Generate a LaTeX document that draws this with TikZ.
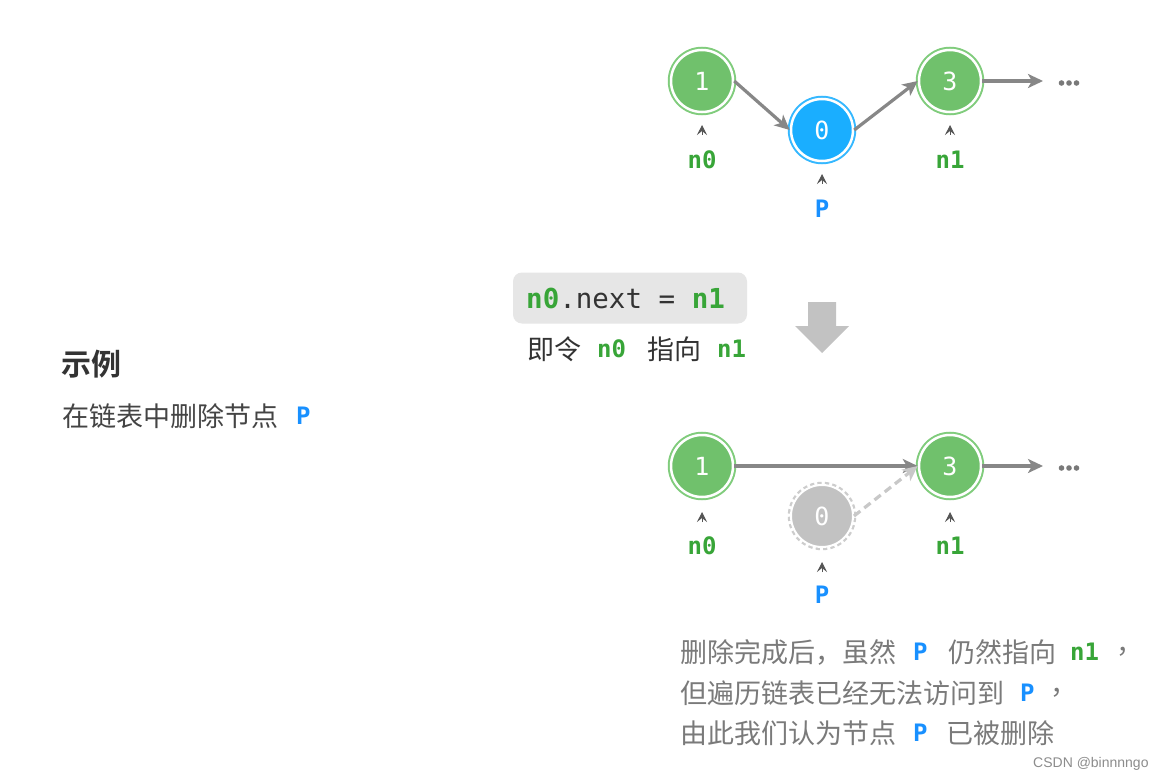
\documentclass[tikz,border=0pt]{standalone}
\usepackage{fontspec}
\setmonofont{DejaVu Sans Mono}
\newfontfamily\cjk{Noto Sans CJK SC}[BoldFont={Noto Sans CJK SC Bold}]
\newfontfamily\wmfont{Liberation Sans}
\usetikzlibrary{arrows.meta}
\definecolor{ngreen}{HTML}{70C16C}
\definecolor{ngring}{HTML}{80CC7C}
\definecolor{nblue}{HTML}{1AAEFF}
\definecolor{nbring}{HTML}{35B8FF}
\definecolor{ggray}{HTML}{C2C2C2}
\definecolor{gring}{HTML}{CDCDCD}
\definecolor{lgreen}{HTML}{38A538}
\definecolor{pblue}{HTML}{1890FF}
\definecolor{agray}{HTML}{878787}
\definecolor{dgray}{HTML}{C8C8C8}
\definecolor{pgray}{HTML}{555555}
\definecolor{txtdark}{HTML}{333333}
\definecolor{txtmid}{HTML}{444444}
\definecolor{txtgray}{HTML}{7A7A7A}
\definecolor{codebg}{HTML}{E6E6E6}
\newcommand\numfnt{\ttfamily\fontsize{25}{25}\selectfont}
\newcommand\lblfnt{\ttfamily\bfseries\fontsize{24}{24}\selectfont}
\newcommand\cjkfnt{\cjk\fontsize{27}{27}\selectfont}
\tikzset{
  cnode/.style={circle, minimum size=62, inner sep=0, draw=white, line width=2.5, text=white, font=\numfnt},
  gnode/.style={cnode, fill=ngreen, preaction={draw=ngring, line width=6.5}},
  bnode/.style={cnode, fill=nblue, preaction={draw=nbring, line width=6.5}},
  xnode/.style={cnode, fill=ggray, line width=2, preaction={draw=gring, line width=6.5, dash pattern=on 4 off 3}},
  link/.style={draw=agray, line width=3.2, -{Stealth[length=15,width=14,inset=4]}},
  dlink/.style={draw=dgray, line width=3.2, dash pattern=on 8 off 5, -{Stealth[length=15,width=14,inset=4]}},
  ptr/.style={draw=pgray, line width=1, -{Stealth[length=10,width=10,inset=4]}},
  glbl/.style={font=\lblfnt, text=lgreen, inner sep=0},
  plbl/.style={font=\lblfnt, text=pblue, inner sep=0},
  txt/.style={anchor=west, inner sep=0},
}
\begin{document}
\begin{tikzpicture}[x=1pt,y=-1pt]
\useasboundingbox[fill=white] (0,0) rectangle (1157,781);

% ---------- top list ----------
\node[gnode] (t1) at (702,81) {1};
\node[bnode] (t0) at (822,130) {0};
\node[gnode] (t3) at (950,81) {3};
\coordinate (te) at (1043,81);
\draw[link] (t1.east) -- (t0.west);
\draw[link] (t0.east) -- (t3.west);
\draw[link] (t3.east) -- (te);
\node[inner sep=0, minimum width=24, minimum height=8] (tdots) at (1069,83) {};
\foreach \dx in {-7.5,0,7.5} \fill[agray!90!black] ([xshift=\dx]tdots.center) circle (2.8);

\coordinate (tpa1) at (702,135); \coordinate (tpa2) at (702,125);
\coordinate (tpb1) at (822,184); \coordinate (tpb2) at (822,174);
\coordinate (tpc1) at (950,135); \coordinate (tpc2) at (950,125);
\draw[ptr] (tpa1) -- (tpa2);
\draw[ptr] (tpb1) -- (tpb2);
\draw[ptr] (tpc1) -- (tpc2);
\node[glbl] (tl0) at (702,160) {n0};
\node[plbl] (tlp) at (822,209) {P};
\node[glbl] (tl1) at (950,160) {n1};

% ---------- code box ----------
\node[draw=none, fill=codebg, rounded corners=9, minimum width=234, minimum height=51, inner sep=0] (code) at (630,298) {};
\node[txt, font=\ttfamily\fontsize{27.5}{27.5}\selectfont, text=txtdark] (codet) at (526,298)
  {\textcolor{lgreen}{\bfseries n0}.next = \textcolor{lgreen}{\bfseries n1}};
\node[txt, font=\cjkfnt, text=txtdark] (s1) at (527,349) {即令};
\node[txt, glbl, anchor=west] (s2) at (597,349) {n0};
\node[txt, font=\cjkfnt, text=txtdark] (s3) at (647,349) {指向};
\node[txt, glbl, anchor=west] (s4) at (717,349) {n1};

% big down arrow
\fill[ggray] (808,302) -- (836,302) -- (836,326) -- (849,326) -- (822,353) -- (795,326) -- (808,326) -- cycle;

% ---------- left text ----------
\node[txt, font=\cjk\bfseries\fontsize{30}{30}\selectfont, text=txtdark] (title) at (61,364) {示例};
\node[txt, font=\cjkfnt, text=txtmid] (desc) at (62,416) {在链表中删除节点};
\node[txt, plbl, anchor=west] (descp) at (296,416) {P};

% ---------- bottom list ----------
\node[gnode] (b1) at (702,466) {1};
\node[xnode] (b0) at (822,516) {0};
\node[gnode] (b3) at (950,466) {3};
\coordinate (be) at (1043,466);
\draw[link] (b1.east) -- (b3.west);
\draw[dlink] (b0.east) -- (b3.west);
\draw[link] (b3.east) -- (be);
\node[inner sep=0, minimum width=24, minimum height=8] (bdots) at (1069,468) {};
\foreach \dx in {-7.5,0,7.5} \fill[agray!90!black] ([xshift=\dx]bdots.center) circle (2.8);

\coordinate (bpa1) at (702,522); \coordinate (bpa2) at (702,512);
\coordinate (bpb1) at (822,572); \coordinate (bpb2) at (822,562);
\coordinate (bpc1) at (950,522); \coordinate (bpc2) at (950,512);
\draw[ptr] (bpa1) -- (bpa2);
\draw[ptr] (bpb1) -- (bpb2);
\draw[ptr] (bpc1) -- (bpc2);
\node[glbl] (bl0) at (702,546) {n0};
\node[plbl] (blp) at (822,595) {P};
\node[glbl] (bl1) at (950,546) {n1};

% ---------- explanation ----------
\node[txt, font=\cjkfnt, text=txtgray] (e1a) at (680,652) {删除完成后，虽然};
\node[txt, plbl, anchor=west] (e1b) at (913,652) {P};
\node[txt, font=\cjkfnt, text=txtgray] (e1c) at (948,652) {仍然指向};
\node[txt, glbl, anchor=west] (e1d) at (1070,652) {n1};
\node[txt, font=\cjkfnt, text=txtgray] (e1e) at (1116,652) {，};
\node[txt, font=\cjkfnt, text=txtgray] (e2a) at (680,693) {但遍历链表已经无法访问到};
\node[txt, plbl, anchor=west] (e2b) at (1020,693) {P};
\node[txt, font=\cjkfnt, text=txtgray] (e2c) at (1050,693) {，};
\node[txt, font=\cjkfnt, text=txtgray] (e3a) at (680,733) {由此我们认为节点};
\node[txt, plbl, anchor=west] (e3b) at (913,733) {P};
\node[txt, font=\cjkfnt, text=txtgray] (e3c) at (946,733) {已被删除};

\node[txt, font=\wmfont\fontsize{14}{14}\selectfont, text=black!45] (wm) at (1033,764) {CSDN @binnnngo};
\end{tikzpicture}
\end{document}
